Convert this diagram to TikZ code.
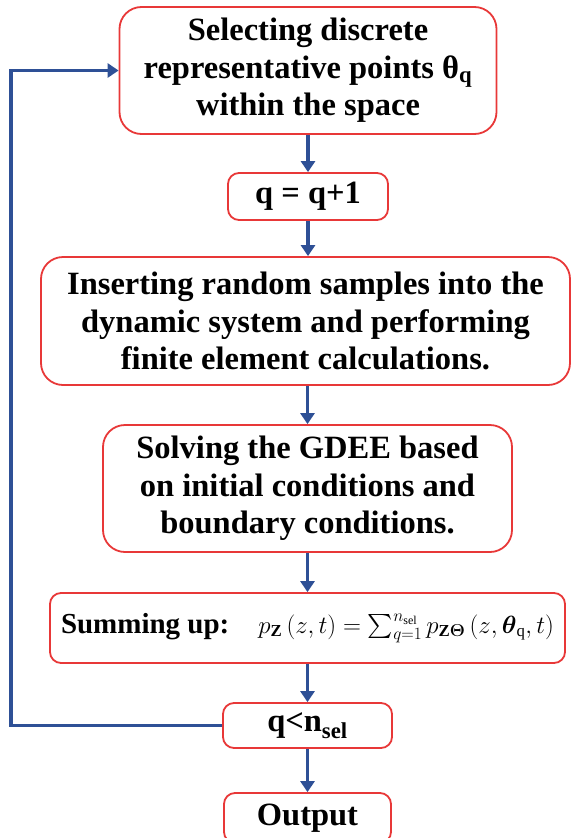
\documentclass[tikz,border=0pt]{standalone}
\usepackage{fontspec}
\setmainfont{Liberation Serif}
\usepackage{amsmath,amssymb}
\usetikzlibrary{arrows.meta}

\definecolor{boxred}{RGB}{232,56,56}
\definecolor{flowblue}{RGB}{46,80,150}

\tikzset{
	stepbox/.style={draw=boxred, line width=1.8pt, rounded corners=22pt, align=center,
		inner sep=0pt, font=\bfseries\fontsize{32.5}{37.5}\selectfont},
	smallbox/.style={stepbox, rounded corners=11pt},
	flowline/.style={draw=flowblue, line width=3.6pt, -{Triangle[width=14pt,length=11pt]}}
}

\begin{document}
\begin{tikzpicture}[x=1pt,y=-1pt]
	\useasboundingbox (0,0) rectangle (571,838);
	% the steps
	\node [stepbox, minimum width=377pt, minimum height=127pt] (select) at (308,70.5)
		{Selecting discrete\\representative points θ\textsubscript{q}\\within the space};
	\node [smallbox, minimum width=160pt, minimum height=47pt] (incr) at (308,196.5) {q = q+1};
	\node [stepbox, minimum width=529pt, minimum height=128pt] (insert) at (305.5,321)
		{Inserting random samples into the\\dynamic system and performing\\finite element calculations.};
	\node [stepbox, minimum width=409pt, minimum height=127pt] (solve) at (307.5,488.5)
		{Solving the GDEE based\\on initial conditions and\\boundary conditions.};
	\node [smallbox, minimum width=515pt, minimum height=70pt, font=\bfseries\fontsize{29}{34}\selectfont] (sum) at (307.5,628)
		{Summing up:\quad\fontsize{24}{28}\selectfont
		$p_{\mathbf{Z}}\left(z,t\right)=\sum_{q=1}^{n_{\mathrm{sel}}}p_{\mathbf{Z}\boldsymbol{\Theta}}\left(z,\boldsymbol{\theta}_{\mathrm{q}},t\right)$};
	\node [smallbox, minimum width=169pt, minimum height=45pt] (test) at (307.5,725.5) {q<n\textsubscript{sel}};
	\node [smallbox, minimum width=167pt, minimum height=50pt] (output) at (307.5,818) {Output};
	% connectors
	\draw [flowline] (select) -- (select |- incr.north);
	\draw [flowline] (incr) -- (incr |- insert.north);
	\draw [flowline] (insert.south -| solve) -- (solve.north);
	\draw [flowline] (solve) -- (solve |- sum.north);
	\draw [flowline] (sum) -- (sum |- test.north);
	\draw [flowline] (test) -- (test |- output.north);
	\draw [flowline] (test.west) -- ++(-211,0) |- (select.west);
\end{tikzpicture}
\end{document}
